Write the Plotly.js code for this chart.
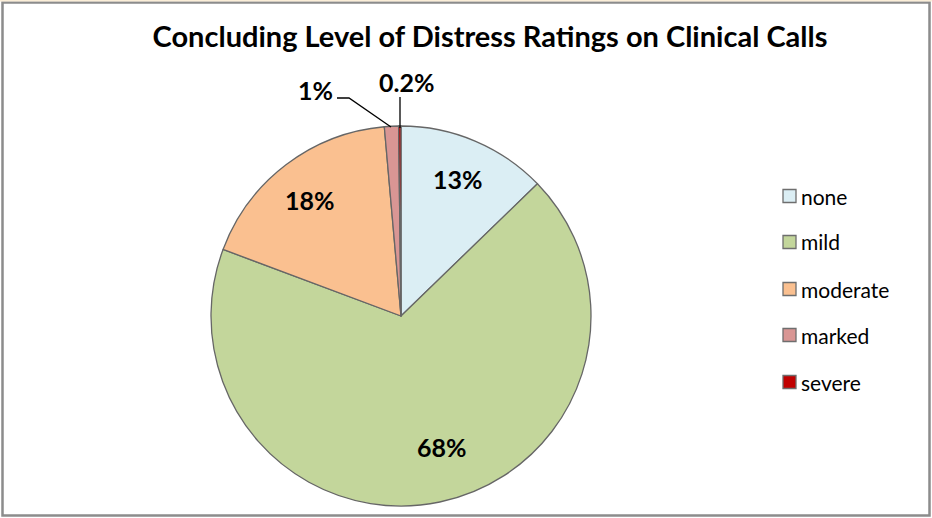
<!DOCTYPE html>
<html><head><meta charset="utf-8">
<script src="https://cdn.plot.ly/plotly-3.0.1.min.js"></script>
<style>html,body{margin:0;padding:0;background:#fff;}#chart{width:932px;height:518px;}</style>
</head><body><div id="chart"></div>
<script>
const categories = ['none', 'mild', 'moderate', 'marked', 'severe'];
const values = [12.75, 67.95, 17.9, 1.2, 0.2];
const pctLabels = ['13%', '68%', '18%', '1%', '0.2%'];
const colors = ['#dbeef4', '#c3d69b', '#fac090', '#d99694', '#c00000'];
const titleText = 'Concluding Level of Distress Ratings on Clinical Calls';

const W = 932, H = 518;
const px = x => x / W, py = y => 1 - y / H;
const cx = 401, cy = 316, R = 190;

const trace = {
  type: 'pie', labels: categories, values: values, sort: false, direction: 'clockwise',
  rotation: 0, textinfo: 'none', hoverinfo: 'label+percent', showlegend: false,
  marker: {colors: colors, line: {color: '#666666', width: 1.3}},
  domain: {x: [px(cx - R), px(cx + R)], y: [py(cy + R), py(cy - R)]}
};

const labelPos = [[458, 179], [442, 447], [310, 200], [315, 90], [406, 82]];
const font = 'Lato, "Open Sans", sans-serif';
const annotations = pctLabels.map((t, i) => ({
  x: px(labelPos[i][0]), y: py(labelPos[i][1]), xref: 'paper', yref: 'paper',
  xanchor: 'center', yanchor: 'middle',
  text: '<b>' + t + '</b>', showarrow: false, font: {family: font, size: 25, color: '#000'}
}));

const shapes = [];
// leader lines
shapes.push({type: 'path', xref: 'paper', yref: 'paper',
  path: `M ${px(337)} ${py(98)} L ${px(349)} ${py(98)} L ${px(391)} ${py(127)}`,
  line: {color: '#000', width: 1.3}});
shapes.push({type: 'line', xref: 'paper', yref: 'paper',
  x0: px(400), y0: py(97), x1: px(400), y1: py(128), line: {color: '#000', width: 1.3}});

// legend
const legY = [196, 242, 289, 335, 382];
categories.forEach((c, i) => {
  shapes.push({type: 'rect', xref: 'paper', yref: 'paper',
    x0: px(783), x1: px(796), y0: py(legY[i] + 6.5), y1: py(legY[i] - 6.5),
    fillcolor: colors[i], line: {color: '#6e6e6e', width: 1.3}});
  annotations.push({x: px(799), y: py(legY[i]), xref: 'paper', yref: 'paper',
    xanchor: 'left', yanchor: 'middle',
    text: c, showarrow: false, font: {family: font, size: 21, color: '#000'}});
});

// frame
shapes.push({type: 'rect', xref: 'paper', yref: 'paper', x0: px(2.5), x1: px(929.5), y0: py(515.5), y1: py(2.5),
  line: {color: '#8c8c8c', width: 2.5}, layer: 'above'});
shapes.push({type: 'rect', xref: 'paper', yref: 'paper', x0: 0, x1: 1, y0: py(1.5), y1: 1,
  fillcolor: '#fbeed8', line: {width: 0}});

const layout = {
  width: W, height: H, margin: {l: 0, r: 0, t: 0, b: 0},
  paper_bgcolor: '#fff', showlegend: false,
  title: {text: '<b>' + titleText + '</b>', x: px(490), y: py(37), xanchor: 'center', yanchor: 'middle',
    font: {family: font, size: 29, color: '#000'}},
  annotations: annotations, shapes: shapes
};
Plotly.newPlot('chart', [trace], layout, {displayModeBar: false});
</script></body></html>
